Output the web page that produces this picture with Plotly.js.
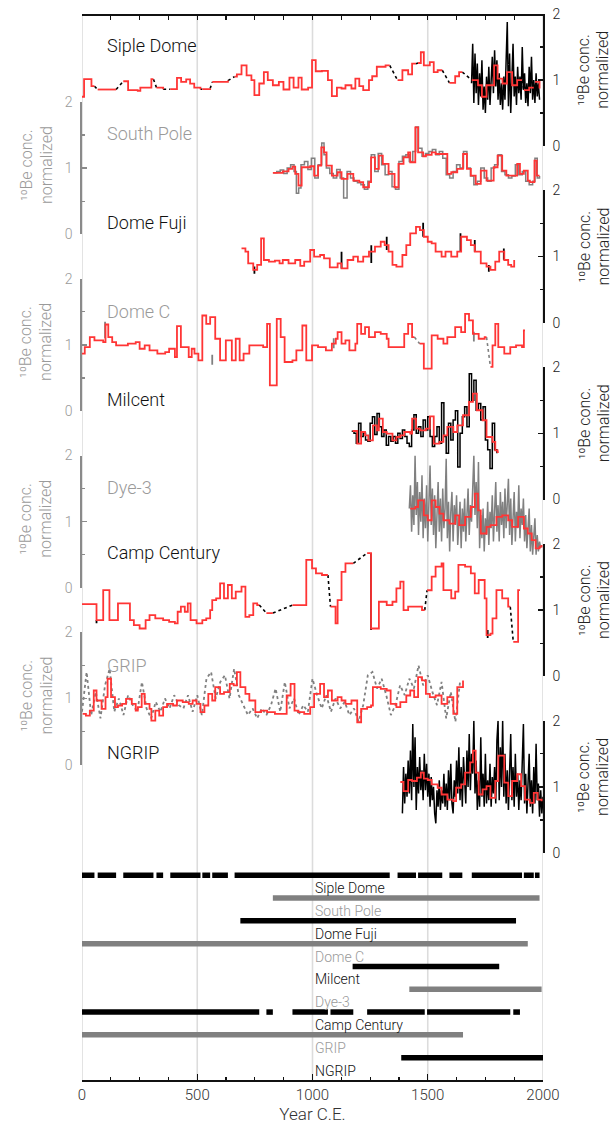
<!DOCTYPE html>
<html>
<head>
<meta charset="utf-8">
<script src="https://cdn.plot.ly/plotly-3.0.1.min.js"></script>
<style>
  html, body { margin: 0; padding: 0; background: #fff; }
  #chart { width: 616px; height: 1127px; }
</style>
</head>
<body>
<div id="chart"></div>
<script>
// ---------------- data: 10Be concentration records (normalized) ----------------
// Step records are [year, value] pairs; null marks a gap in the record.

const panelNames = ['Siple Dome', 'South Pole', 'Dome Fuji', 'Dome C', 'Milcent', 'Dye-3', 'Camp Century', 'GRIP', 'NGRIP'];
const axisTitleLines = ['\u00B9\u2070Be conc.', 'normalized'];

const sipleRed = [[0,0.745],[9,1.011],[41,0.905],[54,0.905],null,[68,0.855],[148,0.855],null,
  [179,0.98],[200,0.845],[242,0.835],[253,0.885],[290,0.885],[301,1.011],[310,1.011],null,
  [323,0.885],[352,0.86],null,[383,0.86],[412,1.03],[430,0.97],[452,1.01],[469,0.945],[487,0.885],[514,0.86],null,
  [522,0.86],[556,0.87],null,[565,0.97],[633,0.99],null,
  [662,1.05],[672,1.086],[692,1.22],[714,1.07],[735,0.996],[748,0.77],[769,0.946],[789,1.12],[806,0.996],[828,0.92],
  [854,0.97],[874,0.855],[900,1.036],[918,0.885],[939,1.036],[953,0.855],[981,0.885],[998,1.30],[1014,1.132],[1041,1.137],
  [1067,0.996],[1084,0.755],[1106,0.885],[1126,0.87],[1143,0.92],[1169,0.87],[1186,1.02],[1203,0.905],[1220,0.845],[1245,0.996],
  [1259,1.056],[1279,1.2],[1317,1.22],[1335,1.22],null,
  [1369,0.996],[1390,1.147],[1415,1.086],[1432,1.247],[1449,1.247],null,
  [1458,1.257],[1470,1.42],[1483,1.22],[1509,1.27],[1526,1.12],[1543,1.147],[1563,1.147],null,
  [1594,0.956],[1619,1.056],[1636,1.12],[1650,1.12],null,
  [1691,0.996],[1718,0.92],[1735,0.745],[1755,0.92],[1788,1.22],[1803,1.02],[1824,0.946],[1844,1.12],[1866,0.92],[1888,0.996],[1909,0.996],null,
  [1917,0.845],[1940,0.885],[1960,0.885],null,[1965,0.97],[1985,0.87]];
const sipleRawStart = 1690, sipleRawStep = 5;
const sipleRawValues = [0.95,1.55,0.65,1.40,0.80,1.25,0.62,1.10,0.75,1.30,
  0.55,0.90,0.50,1.05,0.70,1.20,0.62,1.00,1.35,0.80,
  1.45,0.90,1.30,0.70,1.10,0.62,0.95,0.55,1.05,0.70,
  1.15,1.88,0.60,1.40,0.50,1.15,1.55,0.75,1.05,0.62,
  1.20,0.80,1.05,0.70,1.50,0.85,1.10,0.65,0.95,0.60,
  1.20,0.80,1.35,0.70,1.00,0.65,1.10,0.75,0.95,0.70];

const southPoleRed = [[828,0.927],[871,0.952],[896,0.988],[913,1.023],[925,0.912],[939,0.737],[953,1.013],[990,1.028],[1007,0.887],
  [1024,1.038],[1038,1.313],[1050,1.238],[1061,1.038],[1084,0.887],[1109,0.937],[1126,0.837],[1152,0.912],[1177,0.812],[1203,0.787],
  [1220,0.711],[1245,0.787],[1254,1.163],[1271,0.988],[1288,1.188],[1305,1.063],[1330,0.912],[1356,0.711],[1373,1.063],[1395,1.163],
  [1415,1.238],[1424,1.088],[1446,1.614],[1458,1.238],[1480,1.178],[1492,1.2],[1517,1.238],[1534,1.213],[1560,1.213],[1585,0.912],
  [1602,0.937],[1628,0.988],[1653,1.213],[1670,0.988],[1687,0.887],[1708,0.762],[1730,0.962],[1755,0.812],[1786,1.013],[1803,1.188],
  [1823,0.962],[1841,0.887],[1866,0.887],[1888,1.063],[1900,0.912],[1917,0.962],[1934,0.812],[1943,0.787],[1963,1.113],[1973,0.887],[1985,0.887]];
const southPoleRaw = [[830,0.93],[845,0.95],[860,0.97],[875,0.92],[890,1.0],[905,1.05],[920,0.95],[930,0.62],[940,0.70],[950,1.05],
  [965,1.10],[980,0.98],[995,1.15],[1010,0.85],[1025,1.05],[1040,1.38],[1050,1.20],[1060,1.0],[1075,0.92],[1090,0.85],
  [1105,0.98],[1120,0.85],[1135,0.55],[1150,0.95],[1165,0.85],[1180,0.80],[1195,0.78],[1210,0.75],[1225,0.68],[1240,0.80],
  [1255,1.20],[1270,0.95],[1285,1.22],[1300,1.05],[1315,0.90],[1330,0.95],[1345,0.72],[1360,0.68],[1375,1.10],[1390,1.18],
  [1405,1.20],[1420,1.10],[1435,1.25],[1448,1.62],[1460,1.30],[1475,1.18],[1490,1.22],[1505,1.25],[1520,1.28],[1535,1.20],
  [1550,1.25],[1565,1.15],[1580,0.90],[1595,0.85],[1610,0.95],[1625,1.05],[1640,1.00],[1655,1.25],[1670,1.00],[1685,0.88],
  [1700,0.75],[1715,0.80],[1730,1.00],[1745,0.85],[1760,0.80],[1775,1.00],[1790,1.05],[1805,1.20],[1820,0.95],[1835,0.90],
  [1850,0.85],[1865,0.88],[1880,1.05],[1895,0.90],[1910,0.95],[1925,0.80],[1940,0.75],[1955,0.80],[1965,1.15],[1975,0.85],[1985,0.88]];

const domeFujiRed = [[692,1.123],[709,1.073],[721,0.897],[743,0.797],[760,0.872],[777,1.273],[789,0.947],[811,0.922],[837,0.937],
  [857,0.897],[871,0.947],[896,0.897],[925,0.947],[947,0.857],[964,0.922],[990,1.098],[1007,0.998],[1033,1.023],[1050,0.972],
  [1075,0.837],[1109,0.897],[1126,0.822],[1152,0.947],[1177,0.998],[1197,0.922],[1220,0.998],[1245,1.073],[1271,1.148],[1296,1.223],
  [1313,1.173],[1330,1.073],[1347,0.872],[1364,0.847],[1390,1.023],[1407,1.173],[1424,1.348],[1449,1.449],[1466,1.398],[1483,1.298],
  [1500,1.223],[1517,1.198],[1534,1.073],[1560,0.998],[1577,1.073],[1602,0.998],[1628,1.073],[1645,1.298],[1670,1.248],[1687,1.173],
  [1704,1.073],[1730,0.897],[1755,0.847],[1772,0.797],[1793,0.922],[1810,1.073],[1832,0.947],[1849,0.872],[1862,0.847],[1875,0.947]];
// short excursions of the full-resolution record: [year, low, high]
const domeFujiSpikes = [[748,0.74,0.85],[1126,0.82,1.07],[1255,0.90,1.17],[1322,1.10,1.30],[1480,1.30,1.51],[1642,1.07,1.35],[1704,1.07,1.25],[1765,0.77,0.87],[1830,0.95,1.12]];

const domeCRed = [[0,0.867],[12,0.967],[34,1.118],[54,1.068],[92,1.043],[102,1.308],[114,1.118],[131,1.043],[148,0.993],[199,1.018],
  [233,1.043],[250,0.942],[272,0.993],[293,0.917],[327,0.867],[361,0.892],[378,0.942],[403,0.817],[412,1.283],[429,0.967],
  [463,0.817],[476,0.942],[488,0.867],[505,0.767],[522,1.444],[539,1.318],[556,1.419],[578,1.093],[599,0.767],[624,1.068],
  [650,0.767],[667,1.093],[684,0.767],[701,0.867],[726,0.993],[752,0.993],[786,0.967],[803,1.318],[815,0.39],[845,1.394],
  [862,1.118],[879,0.742],[913,0.767],[930,0.917],[956,1.293],[973,0.767],[998,0.993],[1024,0.967],[1058,0.917],[1084,1.018],
  [1101,1.093],[1109,1.193],[1126,1.018],[1143,1.068],[1160,0.917],[1186,1.018],[1194,1.318],[1211,1.168],[1228,1.268],[1245,1.118],
  [1271,1.193],[1296,1.168],[1322,1.093],[1330,0.967],[1398,1.168],[1415,1.318],[1432,1.118],[1442,1.118],null,
  [1465,1.018],[1483,0.642],[1517,1.143],[1543,1.093],[1568,1.018],[1585,1.118],[1619,1.268],[1645,1.193],[1662,1.469],[1679,1.369],
  [1696,1.168],[1721,1.093],[1747,1.118],[1755,1.118],null,
  [1772,0.667],[1781,0.993],[1793,1.318],[1806,0.967],[1832,0.867],[1858,0.967],[1883,0.993],[1909,0.967],[1917,1.218],[1922,1.218]];
const domeCSpikes = [[100,1.10,1.35],[565,0.70,0.85],[1092,0.95,1.10],[1700,1.05,1.20]];

const milcentRed = [[1174,1.035],[1194,0.843],[1211,1.02],[1228,0.97],[1242,0.894],[1262,1.121],[1279,1.045],[1288,1.222],[1305,1.02],
  [1322,0.995],[1347,0.894],[1364,0.944],[1381,0.97],[1398,1.02],[1424,0.995],[1432,1.222],[1449,1.071],[1466,1.045],[1492,1.071],
  [1509,1.257],[1526,0.843],[1551,0.869],[1568,0.97],[1585,1.096],[1611,1.02],[1628,1.121],[1653,1.273],[1679,1.475],[1696,1.6],
  [1713,1.348],[1738,1.197],[1755,0.944],[1781,0.869],[1793,0.742],[1803,0.717],[1808,0.717]];
const milcentRawStart = 1170, milcentRawStep = 10;
const milcentRawValues = [1.03,1.00,0.85,1.15,0.95,1.00,0.90,0.88,1.15,1.25,
  0.98,1.30,1.10,0.95,1.05,0.82,0.95,0.88,0.95,0.85,
  1.00,0.92,1.05,0.95,0.85,0.80,1.05,1.28,1.00,1.10,
  0.95,1.20,1.05,1.25,0.95,0.80,0.95,1.10,0.85,1.46,
  0.95,0.70,1.15,0.90,1.20,1.34,0.49,1.00,1.25,1.40,
  1.10,1.90,1.50,1.80,1.35,1.45,1.20,1.40,0.90,0.75,
  0.47,1.15,0.75,0.70];

const dye3Red = [[1424,1.197],[1446,1.222],[1458,1.323],[1483,1.097],[1500,1.022],[1517,1.323],[1534,1.222],[1551,1.122],[1568,1.022],
  [1594,0.972],[1619,1.097],[1636,0.947],[1662,1.072],[1687,1.222],[1704,1.423],[1718,1.172],[1730,0.822],[1755,0.922],[1772,0.947],
  [1798,1.072],[1823,1.097],[1849,1.022],[1866,0.922],[1892,1.072],[1917,0.897],[1934,0.822],[1951,0.722],[1968,0.596],[1985,0.622],[1994,0.647]];
const dye3RawStart = 1420, dye3RawStep = 5;
const dye3RawValues = [1.20,1.55,0.85,1.40,0.95,2.00,1.10,1.60,0.80,1.45,
  1.00,1.70,0.75,1.35,0.90,1.55,0.70,1.30,1.85,0.95,
  1.50,0.80,1.40,0.60,1.25,1.60,0.85,1.35,0.70,1.50,
  0.90,1.20,1.95,0.75,1.30,0.55,1.15,1.45,0.70,1.25,
  0.95,1.40,0.65,1.10,1.30,0.60,1.20,0.85,1.35,0.70,
  1.15,1.50,0.80,1.25,1.00,1.45,2.00,1.10,1.60,0.90,
  1.90,0.60,1.10,0.75,1.20,0.55,1.05,0.80,1.30,0.65,
  1.15,0.90,1.40,0.70,1.20,1.60,0.85,1.25,0.70,1.45,
  0.95,1.30,0.75,1.50,0.90,1.20,1.65,0.80,1.35,0.65,
  1.10,1.45,0.70,1.15,0.90,1.55,0.75,1.20,0.95,1.35,
  0.70,1.10,0.60,1.00,1.20,0.55,0.95,0.50,0.85,1.05,
  0.50,0.80,0.55,0.70,0.60];

const campCenturyRed = [[0,1.091],[63,0.848],[92,1.303],[119,0.848],[156,1.101],[208,0.848],[225,0.773],[250,0.722],[276,0.848],
  [293,0.924],[318,0.874],[352,0.848],[378,0.823],[403,0.798],[415,0.975],[429,1.051],[446,0.975],[459,1.101],[471,0.848],
  [497,0.798],[522,0.848],[539,0.874],[556,1.0],[565,1.152],[582,1.177],[599,1.404],[616,1.177],[633,1.379],[650,1.177],
  [667,1.278],[692,1.354],[709,0.899],[726,0.924],[743,1.101],[760,1.076],[769,1.076],null,
  [800,0.955],[828,0.955],null,
  [913,1.076],[973,1.758],[998,1.631],[1015,1.556],[1041,1.53],[1067,1.53],null,
  [1078,1.051],[1100,0.798],[1109,1.152],[1126,1.576],[1143,1.707],[1177,1.707],null,
  [1237,1.86],[1254,0.722],[1288,1.126],[1322,1.076],[1347,1.126],[1364,1.328],[1381,1.429],[1395,1.0],[1415,1.051],[1475,1.0],[1487,1.0],null,
  [1497,1.30],[1517,1.505],[1534,1.657],[1560,1.707],[1568,1.303],[1602,1.177],[1619,1.278],[1633,1.682],[1662,1.657],[1687,1.556],
  [1704,1.253],[1721,1.455],[1747,1.177],[1755,0.621],[1772,0.646],[1781,0.874],[1798,1.303],[1823,1.177],[1849,1.051],[1858,1.051],null,
  [1871,0.52],[1892,1.303],[1900,1.303]];
const campCenturySpikes = [[1254,0.70,1.86],[1760,0.58,0.70],[63,0.80,0.85]];

const gripRed = [[3,0.768],[17,0.742],[34,0.818],[51,1.121],[63,0.970],[85,0.843],[102,1.020],[111,1.298],[126,1.020],[143,0.869],
  [156,0.894],[174,0.919],[191,0.995],[216,0.919],[233,0.818],[242,0.869],[259,1.071],[272,0.919],[293,0.843],[301,0.667],
  [318,0.818],[335,0.742],[352,0.869],[369,0.919],[395,0.894],[412,0.970],[437,0.944],[463,0.919],[480,0.970],[497,0.919],
  [514,0.793],[531,0.894],[548,1.071],[565,0.970],[578,1.172],[599,1.071],[616,1.096],[641,1.222],[658,1.197],[672,1.399],
  [687,1.172],[709,1.071],[726,0.970],[752,0.793],[777,0.818],[803,0.793],[837,0.768],[871,0.768],[888,1.045],[905,1.222],
  [922,0.818],[939,0.793],[964,0.768],[990,0.869],[1007,1.071],[1033,1.222],[1050,1.020],[1067,1.121],[1084,0.970],[1109,1.020],
  [1126,0.970],[1143,0.919],[1169,0.970],[1194,0.641],[1211,0.843],[1237,0.869],[1254,0.894],[1262,1.172],[1279,1.172],[1296,1.146],
  [1322,1.121],[1339,0.919],[1364,0.869],[1381,0.944],[1407,1.045],[1424,1.121],[1441,1.020],[1458,1.323],[1475,1.273],[1492,1.071],
  [1509,1.020],[1534,1.045],[1560,0.919],[1585,1.020],[1611,0.768],[1628,1.172],[1653,1.273]];
const gripRawStart = 0, gripRawStep = 20;
const gripRawValues = [0.80,1.40,0.75,1.10,0.70,1.20,1.45,0.80,1.00,0.75,
  1.05,0.90,0.80,1.25,0.85,0.70,0.95,0.80,1.00,0.85,
  1.05,0.90,0.85,1.05,0.80,1.05,0.75,1.30,1.40,1.00,
  1.25,1.35,1.00,1.45,1.05,0.90,0.75,0.85,0.70,0.85,
  0.75,0.90,1.15,0.80,1.25,0.85,1.00,0.75,0.90,0.80,
  1.30,1.05,0.85,1.05,0.80,1.00,0.85,0.95,0.75,0.85,
  0.65,0.90,1.35,1.40,1.15,1.30,1.05,0.75,0.90,1.20,
  1.05,1.30,1.15,1.50,1.20,1.35,1.10,0.90,1.25,0.70,
  1.10,0.65,1.25];

const ngripRed = [[1381,1.074],[1395,0.936],[1415,1.104],[1432,1.089],[1453,1.140],[1470,1.216],[1483,1.125],[1500,1.104],[1517,1.038],
  [1543,0.987],[1560,0.885],[1585,0.809],[1611,0.784],[1623,0.987],[1645,1.038],[1662,1.216],[1684,1.369],[1696,1.547],[1708,1.216],
  [1721,0.885],[1738,0.962],[1755,1.013],[1772,0.835],[1793,1.089],[1806,1.471],[1820,1.471],[1832,1.064],[1849,0.860],[1866,1.089],
  [1888,1.191],[1905,1.013],[1922,0.809],[1943,0.758],[1960,0.911],[1977,0.809],[1994,0.784]];
const ngripRawStart = 1390, ngripRawStep = 5;
const ngripRawValues = [0.60,1.30,0.75,1.20,0.85,1.40,0.90,1.55,0.80,1.95,
  1.00,1.75,0.65,1.30,0.90,1.45,0.95,1.25,0.80,1.50,
  0.95,1.35,0.85,1.20,0.70,1.15,0.80,1.00,0.60,0.45,
  0.95,0.70,1.10,0.65,0.95,0.75,1.20,0.70,1.05,0.65,
  1.25,0.80,1.35,0.75,0.60,1.10,0.85,1.40,0.90,1.60,
  0.80,1.30,0.70,1.45,1.10,0.75,1.55,1.00,1.80,0.95,
  1.50,1.20,2.00,0.90,1.40,0.65,1.10,0.70,1.75,0.85,
  1.20,0.70,1.50,0.75,1.10,0.80,1.35,0.70,1.15,0.90,
  1.30,0.75,1.70,2.00,0.80,1.60,1.00,2.00,0.85,1.50,
  0.75,1.25,0.65,1.10,1.80,0.80,1.30,0.70,1.50,0.85,
  1.20,0.65,1.10,0.80,1.45,1.95,0.75,1.20,0.60,1.05,
  1.50,0.70,1.10,0.60,1.30,0.75,1.65,0.80,1.05,0.55,
  0.95,0.60,0.85];

// record coverage, [start year, end year] per continuous section
const coverageSiple = [[0,54],[68,148],[179,310],[323,352],[383,514],[522,556],[565,633],[662,1335],[1369,1449],[1458,1563],[1594,1650],[1691,1909],[1917,1960],[1965,1985]];
const coverageSouthPole = [[828,1985]];
const coverageDomeFuji = [[687,1883]];
const coverageDomeC = [[0,1934]];
const coverageMilcent = [[1174,1810]];
const coverageDye3 = [[1420,1994]];
const coverageCampCentury = [[0,769],[800,828],[913,1067],[1078,1177],[1237,1487],[1497,1858],[1871,1900]];
const coverageGRIP = [[0,1653]];
const coverageNGRIP = [[1385,2000]];

const yearTicks = [0, 500, 1000, 1500, 2000];

// ---------------- helpers ----------------
function unzip(pairs) {
  const x = [], y = [];
  pairs.forEach(p => { if (p === null) { x.push(null); y.push(null); } else { x.push(p[0]); y.push(p[1]); } });
  return { x, y };
}
function gapLinks(pairs) {
  const x = [], y = [];
  for (let i = 1; i < pairs.length - 1; i++) {
    if (pairs[i] === null && pairs[i - 1] && pairs[i + 1]) {
      x.push(pairs[i - 1][0], pairs[i + 1][0], null);
      y.push(pairs[i - 1][1], pairs[i + 1][1], null);
    }
  }
  return { x, y };
}
function evenSeries(start, step, values) {
  return { x: values.map((_, i) => start + i * step), y: values };
}
function spikeSegments(list) {
  const x = [], y = [];
  list.forEach(s => { x.push(s[0], s[0], null); y.push(s[1], s[2], null); });
  return { x, y };
}
function coverageSegments(list, row) {
  const x = [], y = [];
  list.forEach(s => { x.push(s[0], s[1], null); y.push(row, row, null); });
  return { x, y };
}

// ---------------- styling ----------------
const INK = '#000000', GREY = '#808080', GREY_TEXT = '#9a9a9a', RED = '#ff3535';
const FONT = 'Roboto, "Liberation Sans", Arial, sans-serif';

const panels = [
  { red: sipleRed, raw: evenSeries(sipleRawStart, sipleRawStep, sipleRawValues), rawShape: 'linear', dark: true, cover: coverageSiple },
  { red: southPoleRed, raw: unzip(southPoleRaw), rawShape: 'hv', dark: false, cover: coverageSouthPole },
  { red: domeFujiRed, spikes: domeFujiSpikes, dark: true, cover: coverageDomeFuji },
  { red: domeCRed, spikes: domeCSpikes, dark: false, cover: coverageDomeC },
  { red: milcentRed, raw: evenSeries(milcentRawStart, milcentRawStep, milcentRawValues), rawShape: 'hv', dark: true, cover: coverageMilcent },
  { red: dye3Red, raw: evenSeries(dye3RawStart, dye3RawStep, dye3RawValues), rawShape: 'linear', dark: false, cover: coverageDye3 },
  { red: campCenturyRed, spikes: campCenturySpikes, dark: true, cover: coverageCampCentury },
  { red: gripRed, raw: evenSeries(gripRawStart, gripRawStep, gripRawValues), rawShape: 'linear', rawDash: 'dot', dark: false, cover: coverageGRIP },
  { red: ngripRed, raw: evenSeries(ngripRawStart, ngripRawStep, ngripRawValues), rawShape: 'linear', dark: true, cover: coverageNGRIP }
];

// page geometry (pixels)
const PLOT_TOP = 14, PLOT_BOTTOM = 1080, PLOT_H = PLOT_BOTTOM - PLOT_TOP;
const PANEL_STEP = 88.4, PANEL_H = 132.4, PANEL_TOP0 = 13.5;
const COVER_TOP = 865;
const paperY = px => (PLOT_BOTTOM - px) / PLOT_H;
const labelCenters = [45.5, 133, 222.7, 311, 399.3, 487.7, 553, 666, 752];

const traces = [];
const layout = {
  width: 616, height: 1127,
  margin: { l: 82, r: 73, t: PLOT_TOP, b: 1127 - PLOT_BOTTOM, pad: 0 },
  paper_bgcolor: '#ffffff', plot_bgcolor: 'rgba(0,0,0,0)',
  font: { family: FONT, color: '#111', size: 14, weight: 300 },
  showlegend: false,
  xaxis: {
    domain: [0, 1], range: [0, 2000], anchor: 'y10',
    showline: true, linecolor: '#111', linewidth: 1.6,
    ticks: 'inside', ticklen: 6, tickwidth: 1.4, tickcolor: '#111',
    tickmode: 'array', tickvals: yearTicks, ticktext: yearTicks.map(String),
    minor: { dtick: 125, tick0: 0, ticks: 'inside', ticklen: 3, tickwidth: 1.2, tickcolor: '#111' },
    tickfont: { size: 15, color: '#333', family: FONT, weight: 300 },
    title: { text: 'Year C.E.', font: { size: 17, color: '#333', family: FONT, weight: 300 }, standoff: 2 },
    showgrid: false, zeroline: false, fixedrange: true
  },
  xaxis2: {
    overlaying: 'x', side: 'top', anchor: 'free', position: 1, range: [0, 2000],
    showline: true, linecolor: '#111', linewidth: 1.6,
    ticks: 'inside', ticklen: 4, tickwidth: 1.2, tickcolor: '#111', dtick: 125, tick0: 0,
    showticklabels: false, showgrid: false, zeroline: false, fixedrange: true
  },
  yaxis10: {
    domain: [0, paperY(COVER_TOP)], range: [8.98, -0.45], anchor: 'x',
    visible: false, fixedrange: true
  },
  shapes: yearTicks.map(v => ({
    type: 'line', xref: 'x', yref: 'paper', x0: v, x1: v, y0: 0, y1: 1,
    line: { color: '#dcdcdc', width: 1.6 }, layer: 'below'
  })),
  annotations: []
};

// frame line on top
traces.push({ x: [0, 2000], y: [null, null], xaxis: 'x2', yaxis: 'y10', mode: 'lines', hoverinfo: 'skip' });

panels.forEach((p, i) => {
  const yName = i === 0 ? 'y' : 'y' + (i + 1);
  const axKey = i === 0 ? 'yaxis' : 'yaxis' + (i + 1);
  const top = PANEL_TOP0 + PANEL_STEP * i, bottom = top + PANEL_H;
  const right = i % 2 === 0;
  const lineColor = p.dark ? INK : GREY;
  const axColor = p.dark ? '#111' : '#8a8a8a';
  const textColor = p.dark ? '#222' : GREY_TEXT;

  layout[axKey] = {
    domain: [paperY(bottom), paperY(top)], range: [0, 2], anchor: 'x', side: right ? 'right' : 'left',
    showline: true, linecolor: axColor, linewidth: 1.6,
    ticks: 'inside', ticklen: 5, tickwidth: 1.4, tickcolor: axColor,
    tickmode: 'array', tickvals: [0, 1, 2], ticktext: ['0', '1', '2'],
    minor: { dtick: 0.5, tick0: 0, ticks: 'inside', ticklen: 3, tickwidth: 1.2, tickcolor: axColor },
    tickfont: { size: 14, color: textColor, family: FONT, weight: 300 },
    ticklabelstandoff: 5,
    showgrid: false, zeroline: false, fixedrange: true
  };

  // full-resolution record
  if (p.raw) {
    traces.push({ x: p.raw.x, y: p.raw.y, xaxis: 'x', yaxis: yName, mode: 'lines',
      line: { color: lineColor, width: p.rawDash ? 1.8 : 1.5, shape: p.rawShape, dash: p.rawDash || 'solid' }, hoverinfo: 'skip' });
  }
  if (p.spikes) {
    const s = spikeSegments(p.spikes);
    traces.push({ x: s.x, y: s.y, xaxis: 'x', yaxis: yName, mode: 'lines',
      line: { color: lineColor, width: 1.8 }, hoverinfo: 'skip' });
  }
  // dotted bridges across gaps
  const g = gapLinks(p.red);
  if (g.x.length) {
    traces.push({ x: g.x, y: g.y, xaxis: 'x', yaxis: yName, mode: 'lines',
      line: { color: lineColor, width: 1.6, dash: 'dot' }, hoverinfo: 'skip' });
  }
  // resampled record
  const r = unzip(p.red);
  traces.push({ x: r.x, y: r.y, xaxis: 'x', yaxis: yName, mode: 'lines',
    line: { color: RED, width: 1.8, shape: 'hv' }, connectgaps: false, hoverinfo: 'skip' });

  // record name
  layout.annotations.push({
    text: panelNames[i], xref: 'x', yref: 'paper', x: 100, y: paperY(labelCenters[i]),
    xanchor: 'left', yanchor: 'middle', showarrow: false,
    font: { size: 18, color: p.dark ? '#111' : GREY_TEXT, family: FONT, weight: 300 }
  });
  // axis title, one rotated annotation per line
  const centre = (top + bottom) / 2 + (right ? -10 : -3);
  const colX = right ? [584, 603] : [26, 46];
  axisTitleLines.forEach((line, k) => {
    layout.annotations.push({
      text: line, xref: 'paper', yref: 'paper',
      x: (colX[k] - 82) / 461, y: paperY(centre),
      xanchor: 'center', yanchor: 'middle', textangle: -90, showarrow: false,
      font: { size: 16, color: p.dark ? '#222' : GREY_TEXT, family: FONT, weight: 300 }
    });
  });

  // coverage bar and its label
  const c = coverageSegments(p.cover, i);
  traces.push({ x: c.x, y: c.y, xaxis: 'x', yaxis: 'y10', mode: 'lines',
    line: { color: lineColor, width: 5.5 }, hoverinfo: 'skip' });
  layout.annotations.push({
    text: panelNames[i], xref: 'x', yref: 'y10', x: 1000, y: i + 0.57,
    xanchor: 'left', yanchor: 'middle', showarrow: false,
    font: { size: 14, color: p.dark ? '#111' : GREY_TEXT, family: FONT, weight: 300 }
  });
});

Plotly.newPlot('chart', traces, layout, { staticPlot: true, displayModeBar: false });
</script>
</body>
</html>
